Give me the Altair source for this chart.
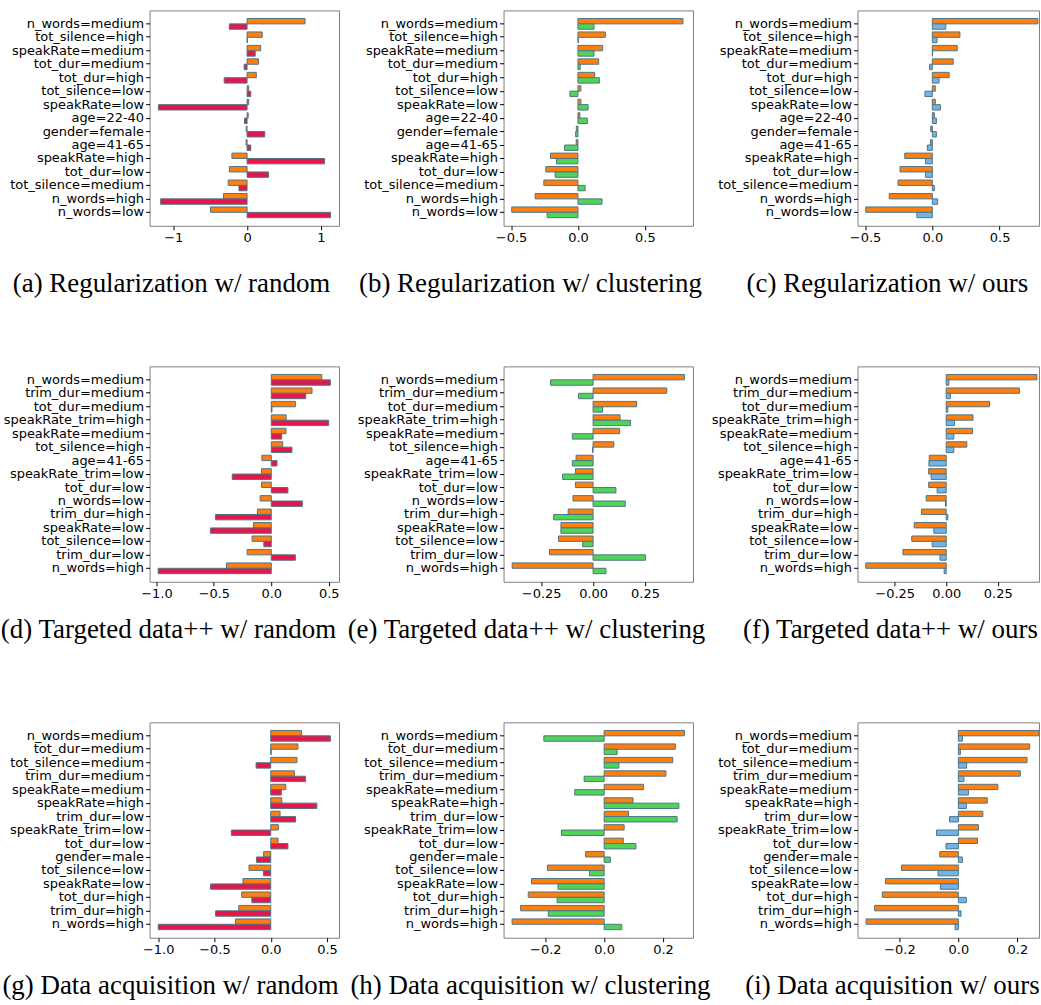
import altair as alt
import pandas as pd

# ---------------- data ----------------
cats_reg = ["n_words=medium", "tot_silence=high", "speakRate=medium", "tot_dur=medium",
            "tot_dur=high", "tot_silence=low", "speakRate=low", "age=22-40",
            "gender=female", "age=41-65", "speakRate=high", "tot_dur=low",
            "tot_silence=medium", "n_words=high", "n_words=low"]
base_reg = [0.785, 0.205, 0.185, 0.155, 0.125, 0.022, 0.022, 0.015, -0.012, -0.013,
            -0.205, -0.24, -0.255, -0.32, -0.495]
reg_random = [-0.24, 0.005, 0.11, -0.04, -0.31, 0.05, -1.20, -0.035, 0.24, 0.05,
              1.05, 0.29, -0.11, -1.17, 1.13]
reg_cluster = [0.12, 0.003, 0.12, 0.017, 0.16, -0.06, 0.076, 0.07, -0.017, -0.10,
               -0.16, -0.17, 0.054, 0.18, -0.23]
reg_ours = [0.10, 0.035, 0.002, -0.02, 0.05, -0.055, 0.06, 0.03, 0.03, -0.037,
            -0.05, -0.05, 0.015, 0.04, -0.115]

cats_tdp = ["n_words=medium", "trim_dur=medium", "tot_dur=medium", "speakRate_trim=high",
            "speakRate=medium", "tot_silence=high", "age=41-65", "speakRate_trim=low",
            "tot_dur=low", "n_words=low", "trim_dur=high", "speakRate=low",
            "tot_silence=low", "trim_dur=low", "n_words=high"]
base_tdp = [0.44, 0.355, 0.21, 0.13, 0.128, 0.10, -0.082, -0.085, -0.085, -0.097,
            -0.12, -0.155, -0.167, -0.21, -0.39]
tdp_random = [0.515, 0.30, 0.006, 0.50, 0.09, 0.18, 0.05, -0.34, 0.145, 0.27,
              -0.485, -0.53, -0.065, 0.21, -0.985]
tdp_cluster = [-0.205, -0.07, 0.046, 0.18, -0.10, -0.003, -0.10, -0.147, 0.11, 0.155,
               -0.19, -0.155, -0.05, 0.253, 0.062]
tdp_ours = [0.013, 0.02, 0.008, 0.04, 0.037, 0.037, -0.084, -0.073, -0.044, -0.003,
            0.008, -0.06, -0.068, -0.03, -0.01]

cats_acq = ["n_words=medium", "tot_dur=medium", "tot_silence=medium", "trim_dur=medium",
            "speakRate=medium", "speakRate=high", "trim_dur=low", "speakRate_trim=low",
            "tot_dur=low", "gender=male", "tot_silence=low", "speakRate=low",
            "tot_dur=high", "trim_dur=high", "n_words=high"]
base_acq = [0.273, 0.242, 0.233, 0.21, 0.134, 0.098, 0.083, 0.068, 0.065, -0.063,
            -0.193, -0.247, -0.258, -0.284, -0.313]
acq_random = [0.53, 0.004, -0.13, 0.31, 0.094, 0.41, 0.22, -0.35, 0.153, -0.127,
              -0.065, -0.535, -0.168, -0.49, -1.0]
acq_cluster = [-0.205, 0.044, 0.05, -0.068, -0.10, 0.254, 0.248, -0.145, 0.108, 0.021,
               -0.05, -0.157, -0.16, -0.19, 0.06]
acq_ours = [0.0135, 0.007, 0.028, 0.019, 0.034, 0.027, -0.03, -0.074, -0.042, 0.0135,
            -0.069, -0.061, 0.027, 0.009, -0.011]

captions = [
    "(a) Regularization w/ random", "(b) Regularization w/ clustering", "(c) Regularization w/ ours",
    "(d) Targeted data++ w/ random", "(e) Targeted data++ w/ clustering", "(f) Targeted data++ w/ ours",
    "(g) Data acquisition w/ random", "(h) Data acquisition w/ clustering", "(i) Data acquisition w/ ours",
]

series_names = ["base", "random", "clustering", "ours"]
series_colors = ["#ff7f0e", "#e4174d", "#50d458", "#74b3e8"]
EDGE = "#4f7485"


def panel(cats, base, other, method, domain, ticks, fmt, caption, dx, width, cap_offset):
    n = len(cats)
    df = pd.DataFrame({
        "feature": cats + cats,
        "slot": ["first"] * n + ["second"] * n,
        "series": ["base"] * n + [method] * n,
        "value": base + other,
    })
    return alt.Chart(df).mark_bar(stroke=EDGE, strokeWidth=1).encode(
        y=alt.Y("feature:N", sort=cats,
                scale=alt.Scale(paddingInner=0.2, paddingOuter=0.6),
                axis=alt.Axis(title=None, labelPadding=2)),
        yOffset=alt.YOffset("slot:N", sort=["first", "second"],
                            scale=alt.Scale(domain=["first", "second"],
                                            paddingInner=0, paddingOuter=0)),
        x=alt.X("value:Q",
                scale=alt.Scale(domain=domain, nice=False, zero=False),
                axis=alt.Axis(title=None, values=ticks, format=fmt, labelPadding=2)),
        color=alt.Color("series:N",
                        scale=alt.Scale(domain=series_names, range=series_colors),
                        legend=None),
    ).properties(
        width=width, height=216,
        title=alt.TitleParams(caption, orient="bottom", anchor="middle",
                              font="Liberation Serif", fontSize=27, fontWeight="normal",
                              color="black", offset=cap_offset, dx=dx),
    )


panels = [
    panel(cats_reg, base_reg, reg_random, "random", [-1.32, 1.245], [-1, 0, 1], "d", captions[0], -73, 190, 26),
    panel(cats_reg, base_reg, reg_cluster, "clustering", [-0.556, 0.86], [-0.5, 0, 0.5], ".1f", captions[1], -68, 190, 26),
    panel(cats_reg, base_reg, reg_ours, "ours", [-0.556, 0.793], [-0.5, 0, 0.5], ".1f", captions[2], -61, 182, 26),
    panel(cats_tdp, base_tdp, tdp_random, "random", [-1.06, 0.59], [-1.0, -0.5, 0, 0.5], ".1f", captions[3], -76, 190, 16),
    panel(cats_tdp, base_tdp, tdp_cluster, "clustering", [-0.4315, 0.4815], [-0.25, 0, 0.25], ".2f", captions[4], -72, 190, 16),
    panel(cats_tdp, base_tdp, tdp_ours, "ours", [-0.43, 0.45], [-0.25, 0, 0.25], ".2f", captions[5], -58, 182, 16),
    panel(cats_acq, base_acq, acq_random, "random", [-1.077, 0.607], [-1.0, -0.5, 0, 0.5], ".1f", captions[6], -74, 190, 16),
    panel(cats_acq, base_acq, acq_cluster, "clustering", [-0.342, 0.302], [-0.2, 0, 0.2], ".1f", captions[7], -68, 190, 16),
    panel(cats_acq, base_acq, acq_ours, "ours", [-0.342, 0.2735], [-0.2, 0, 0.2], ".1f", captions[8], -56, 182, 16),
]

chart = alt.concat(
    *panels, columns=3, spacing={"row": 141, "column": 165}, bounds="flush"
).resolve_scale(
    yOffset="independent"
).properties(
    padding={"left": 0, "top": 8, "right": 0, "bottom": 0},
    background="white",
).configure_view(
    stroke="#808080", strokeWidth=1
).configure_axis(
    grid=False, domain=False,
    labelFont="DejaVu Sans", labelFontSize=13, labelColor="black",
    tickColor="black", tickSize=4, tickWidth=1,
)

chart.save("out.html", embed_options={"renderer": "svg", "actions": False})
